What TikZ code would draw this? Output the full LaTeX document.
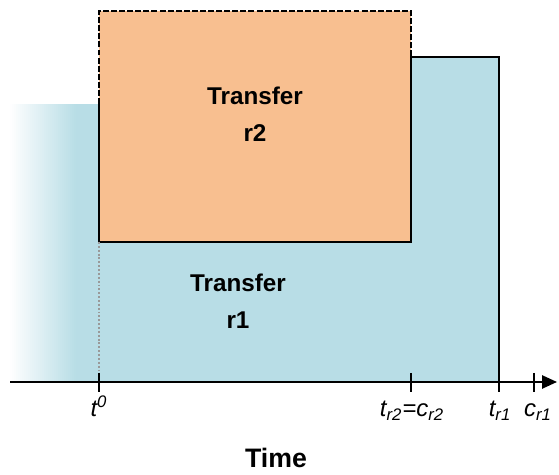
\documentclass[tikz,border=0pt]{standalone}
\usepackage{fontspec}
\setmainfont{Liberation Sans}
\usetikzlibrary{arrows.meta}
\definecolor{blue1}{RGB}{184,221,230}
\definecolor{orange1}{RGB}{248,191,144}
\begin{document}
\begin{tikzpicture}[x=0.02cm, y=-0.02cm,
		b/.style = {font=\fontsize{13.8}{21}\selectfont\bfseries, align=center, inner sep=0pt},
		l/.style = {font=\fontsize{13.6}{16}\selectfont\itshape, inner sep=0pt, anchor=base},
		e/.style = {line width=1.1pt, line join=miter},
		d/.style = {e, dash pattern=on 3.4pt off 1.2pt},
		g/.style = {draw=black!40, line width=1pt, dash pattern=on 1.1pt off 1.1pt},
		k/.style = {line width=1.1pt},
		a/.style = {-{Triangle[length=8.5pt, width=7.5pt]}, line width=1.1pt}
		]
		\useasboundingbox (0,0) rectangle (559,475);
		
		%Coordinates
		\coordinate	(ax0)	at	(10, 382);
		\coordinate	(ax1)	at	(557, 382);
		\coordinate	(o1)	at	(99, 11);
		\coordinate	(o2)	at	(411, 11);
		\coordinate	(o3)	at	(411, 242);
		\coordinate	(o4)	at	(99, 242);
		\coordinate	(p0)	at	(76, 104);
		\coordinate	(p1)	at	(99, 104);
		\coordinate	(p2)	at	(411, 57);
		\coordinate	(p3)	at	(499, 57);
		\coordinate	(p4)	at	(499, 382);
		
		%Areas
		\fill[blue1]	(p0)	rectangle	(411, 382);
		\fill[blue1]	(p2)	rectangle	(p4);
		\foreach \i [evaluate=\i as \p using 100*(\i+0.5)/33] in {0,...,32}
			\fill[blue1!\p!white]	({10+2*\i}, 104)	rectangle	({12.4+2*\i}, 382);
		\fill[orange1]	(o1)	rectangle	(o3);
		
		%Nodes
		\node[b]	(r2)	at	(255, 114)	{Transfer\\r2};
		\node[b]	(r1)	at	(238, 301)	{Transfer\\r1};
		
		\node[l]	(t0)	at	(99, 417)	{t\textsuperscript{0}};
		\node[l]	(tr2)	at	(412, 417)	{t\textsubscript{r2}=c\textsubscript{r2}};
		\node[l]	(tr1)	at	(500, 417)	{t\textsubscript{r1}};
		\node[l]	(cr1)	at	(538, 417)	{c\textsubscript{r1}};
		
		\node[font=\fontsize{15.2}{18}\selectfont\bfseries, inner sep=0pt, anchor=base]	(time)	at	(276, 468)	{Time};
		
		%Lines
		\draw[d]	(p1)	--	(o1)	--	(o2)	--	(p2);
		\draw[e]	(p1)	--	(o4)	--	(o3)	--	(p2)	--	(p3)	--	(p4);
		\draw[g]	(o4)	--	(99, 373);
		
		\draw[a]	(ax0)	--	(ax1);
		\foreach \x in {99, 411, 499, 534}
			\draw[k]	(\x, 373)	--	(\x, 392);
	\end{tikzpicture}
\end{document}
